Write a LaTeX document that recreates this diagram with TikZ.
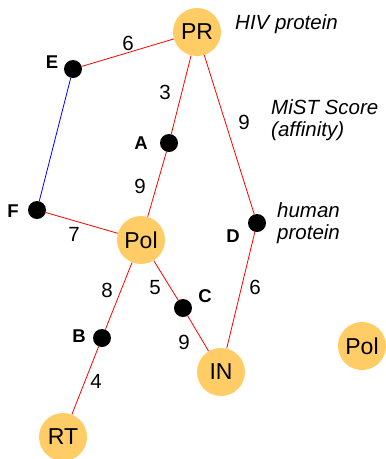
\documentclass[tikz,border=0pt]{standalone}
\usepackage{fontspec}
\setmainfont{Liberation Sans}
\usetikzlibrary{backgrounds}
\definecolor{hiv}{HTML}{FFCC66}
\tikzset{
  hivnode/.style={circle,fill=hiv,minimum size=48pt,inner sep=0pt,font=\fontsize{23}{23}\selectfont},
  hdot/.style={circle,fill=black,minimum size=18pt,inner sep=0pt},
  lbl/.style={font=\bfseries\fontsize{18.5}{18.5}\selectfont,inner sep=0pt},
  num/.style={font=\fontsize{20.5}{20.5}\selectfont,inner sep=0pt},
  note/.style={font=\itshape\fontsize{20.5}{21.5}\selectfont,inner sep=0pt,align=left,anchor=west},
  redl/.style={draw=red,line width=0.8pt},
  bluel/.style={draw=blue,line width=0.8pt}
}
\begin{document}
\begin{tikzpicture}[x=1pt,y=-1pt]
\useasboundingbox (0,0) rectangle (386,459);
\node[hivnode] (PR) at (197,32) {PR};
\node[hivnode] (Pol) at (141,240) {Pol};
\node[hivnode] (IN) at (221,372) {IN};
\node[hivnode] (RT) at (63,437) {RT};
\node[hivnode] (Pol2) at (362,346) {Pol};
\node[hdot] (E) at (73,69) {};
\node[hdot] (A) at (169,143) {};
\node[hdot] (F) at (37,210) {};
\node[hdot] (D) at (257,223) {};
\node[hdot] (C) at (183,308) {};
\node[hdot] (B) at (102,338) {};
\begin{scope}[on background layer]
\draw[redl] (PR) -- (E);
\draw[redl] (PR) -- (A);
\draw[redl] (PR) -- (D);
\draw[redl] (A) -- (Pol);
\draw[bluel] (E) -- (F);
\draw[redl] (F) -- (Pol);
\draw[redl] (Pol) -- (B);
\draw[redl] (B) -- (RT);
\draw[redl] (Pol) -- (C);
\draw[redl] (C) -- (IN);
\draw[redl] (D) -- (IN);
\end{scope}
\node[lbl] (lE) at (52,62) {E};
\node[lbl] (lA) at (141,143) {A};
\node[lbl] (lF) at (13,211) {F};
\node[lbl] (lD) at (233,236) {D};
\node[lbl] (lC) at (205,296) {C};
\node[lbl] (lB) at (79,336) {B};
\node[num] (n1) at (128,43) {6};
\node[num] (n2) at (165,92) {3};
\node[num] (n3) at (244,122) {9};
\node[num] (n4) at (140,186) {9};
\node[num] (n5) at (74,234) {7};
\node[num] (n6) at (107,290) {8};
\node[num] (n7) at (155,288) {5};
\node[num] (n8) at (255,287) {6};
\node[num] (n9) at (184,342) {9};
\node[num] (n10) at (96,381) {4};
\node[note] (t1) at (235,24) {HIV protein};
\node[note] (t2) at (271,120) {MiST Score\\(affinity)};
\node[note] (t3) at (277,223) {human\\protein};
\end{tikzpicture}
\end{document}
